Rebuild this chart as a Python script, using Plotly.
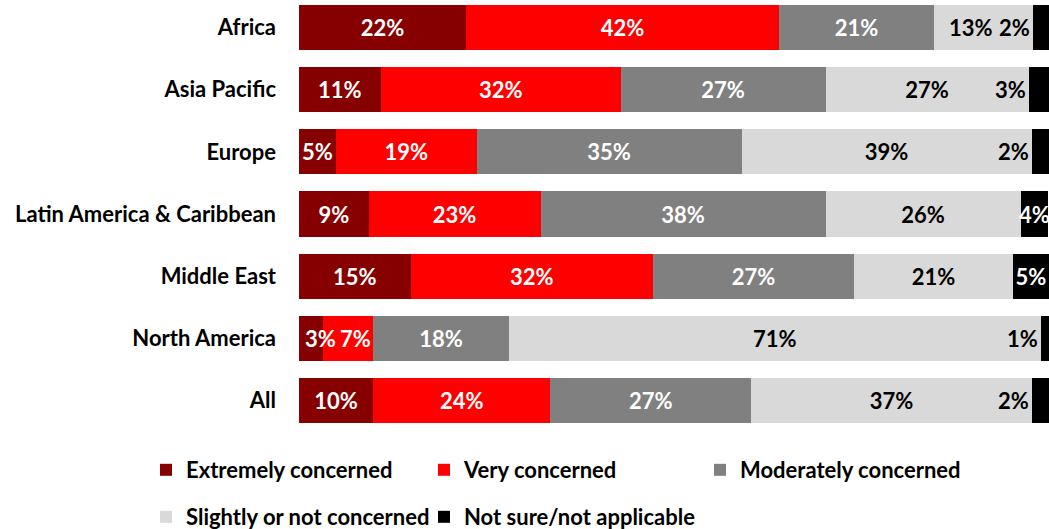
import plotly.graph_objects as go

categories = ["Africa", "Asia Pacific", "Europe", "Latin America & Caribbean",
              "Middle East", "North America", "All"]
series_names = ["Extremely concerned", "Very concerned", "Moderately concerned",
                "Slightly or not concerned", "Not sure/not applicable"]
extremely = [22.3, 10.9, 4.9, 9.3, 14.9, 3.2, 9.9]
very = [41.7, 32.0, 18.8, 22.9, 32.3, 6.7, 23.6]
moderately = [20.7, 27.3, 35.3, 38.0, 26.8, 18.1, 26.8]
slightly = [13.2, 27.1, 38.7, 26.0, 21.2, 70.9, 37.4]
not_sure = [2.1, 2.7, 2.3, 3.7, 4.8, 1.1, 2.4]

series_values = [extremely, very, moderately, slightly, not_sure]
colors = ["#870000", "#FF0000", "#808080", "#D9D9D9", "#000000"]
text_colors = ["white", "white", "white", "black", "white"]

FONT = "Lato"
FS = 22

label_font = dict(family=FONT, size=FS, color="black", weight="bold")
white_font = dict(family=FONT, size=FS, color="white", weight="bold")

fig = go.Figure()
annotations = []
legend_ids = ["legend", "legend2", "legend3", "legend4", "legend5"]
for i, (name, vals) in enumerate(zip(series_names, series_values)):
    texts = []
    for j, v in enumerate(vals):
        if i == 4 and v < 3.5:
            texts.append("")
        elif i == 3 and v < 15:
            texts.append("")
        elif i == 0 and v < 4:
            texts.append("")
        elif i == 1 and v < 8:
            texts.append("")
        else:
            texts.append(f"{v:.0f}%")
    fig.add_trace(go.Bar(
        y=categories, x=vals, name=name, orientation="h",
        marker=dict(color=colors[i], line=dict(width=0)),
        text=texts, textposition="inside", insidetextanchor="middle",
        textangle=0, constraintext="none",
        textfont=dict(family=FONT, size=FS, color=text_colors[i], weight="bold"),
        hoverinfo="skip",
        legend=legend_ids[i],
        cliponaxis=False,
    ))

for j, cat in enumerate(categories):
    # very narrow first segments: label starts at the bar's left end
    if extremely[j] < 4:
        annotations.append(dict(
            x=0, y=cat, xref="x", yref="y", text=f"{extremely[j]:.0f}%",
            showarrow=False, xanchor="left", xshift=4, font=white_font))
    if very[j] < 8:
        annotations.append(dict(
            x=extremely[j] + very[j], y=cat, xref="x", yref="y",
            text=f"{very[j]:.0f}%", showarrow=False, xanchor="right",
            xshift=0, font=white_font))
    base = extremely[j] + very[j] + moderately[j]
    # narrow light-grey segment: label nudged left to leave room for the next label
    if slightly[j] < 15:
        annotations.append(dict(
            x=base + slightly[j] / 2, y=cat, xref="x", yref="y",
            text=f"{slightly[j]:.0f}%", showarrow=False, xanchor="center",
            xshift=-13, font=label_font))
    # small "not sure" segments: label just left of the segment
    if not_sure[j] < 3.5:
        annotations.append(dict(
            x=base + slightly[j], y=cat, xref="x", yref="y",
            text=f"{not_sure[j]:.0f}%", showarrow=False, xanchor="right",
            xshift=-1, font=label_font))

# legend item positions (container pixels)
legend_pos = [(146, 470), (424, 470), (700, 470), (146, 517), (424, 517)]
legends = {}
for lid, (px, py) in zip(legend_ids, legend_pos):
    legends[lid] = dict(
        orientation="h", xref="container", yref="container",
        x=px / 1049, y=1 - py / 529, xanchor="left", yanchor="middle",
        font=label_font, bgcolor="rgba(0,0,0,0)",
        itemclick=False, itemdoubleclick=False, borderwidth=0,
    )

fig.update_layout(
    width=1049, height=529,
    margin=dict(l=299, r=0, t=0, b=89),
    barmode="stack", bargap=0.276,
    plot_bgcolor="white", paper_bgcolor="white",
    font=label_font,
    xaxis=dict(range=[0, 100], visible=False, fixedrange=True),
    yaxis=dict(range=[6.635, -0.442], showgrid=False, zeroline=False,
               showline=False, ticks="", ticklabelstandoff=22,
               tickfont=label_font, fixedrange=True),
    uniformtext=dict(mode="show", minsize=FS),
    annotations=annotations,
    showlegend=True,
    **legends,
)

fig.write_html("out.html", config={"displayModeBar": False},
               post_script="document.body.style.margin='0';")
